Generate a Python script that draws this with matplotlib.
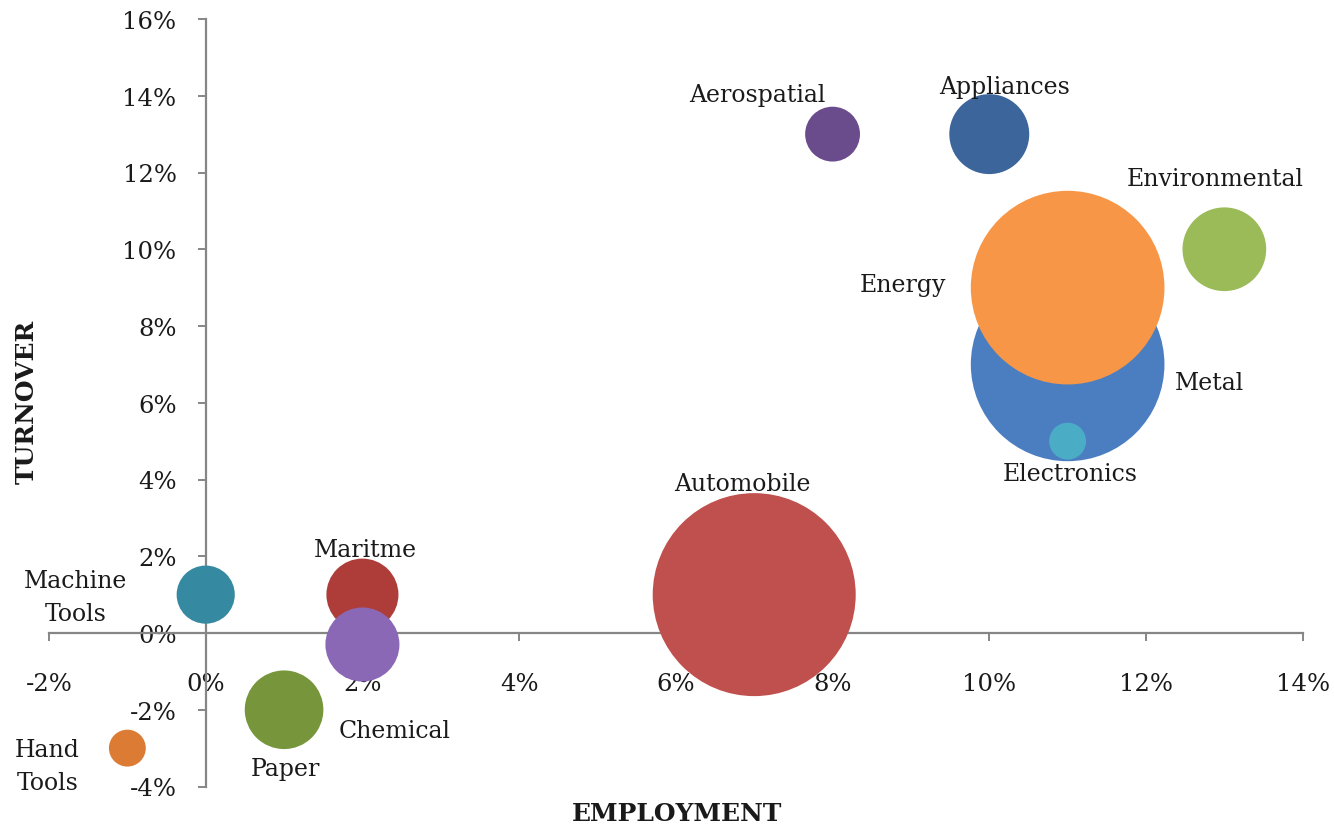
import matplotlib
matplotlib.use("Agg")
import matplotlib.pyplot as plt
from matplotlib.ticker import FuncFormatter

# ---- data ----
sectors = ["Hand\nTools", "Machine\nTools", "Maritme", "Chemical", "Paper", "Automobile",
           "Aerospatial", "Appliances", "Environmental", "Metal", "Energy", "Electronics"]
employment = [-1, 0, 2, 2, 1, 7, 8, 10, 13, 11, 11, 11]          # %
turnover = [-3, 1, 1, -0.3, -2, 1, 13, 13, 10, 7, 9, 5]          # %
bubble_size = [3.3, 8.2, 12.6, 13.3, 15, 100, 7.3, 15.5, 17, 91, 91, 3.3]
colors = ["#DB7B34", "#3589A1", "#AE3D39", "#8A68B5", "#77953A", "#C0504D",
          "#6A4B8B", "#3C659B", "#9BBB59", "#4A7EC1", "#F79646", "#4BACC6"]
x_ticks = [-2, 0, 2, 4, 6, 8, 10, 12, 14]
y_ticks = [-4, -2, 0, 2, 4, 6, 8, 10, 12, 14, 16]

# label offsets in pixels from bubble centre (dx, dy; y up)
label_offsets = [(-80, -18), (-130, -2), (3, 45), (32, -86), (1, -59), (-12, 111),
                 (-75, 40), (15, 48), (-9, 71), (142, -18), (-165, 3), (3, -32)]

DPI = 100
fig = plt.figure(figsize=(13.34, 8.29), dpi=DPI)
ax = fig.add_axes([49 / 1334, 1 - 787.5 / 829, (1302.7 - 49) / 1334, (787.5 - 20) / 829])

font = "DejaVu Serif"
txt_color = "#1a1a1a"
axis_color = "#868686"

max_r_px = 101.5
max_size = max(bubble_size)
for x, y, sz, c in zip(employment, turnover, bubble_size, colors):
    r_px = max_r_px * (sz / max_size) ** 0.5
    d_pt = 2 * r_px * 72 / DPI
    ax.scatter([x], [y], s=d_pt ** 2, color=c, edgecolors="none", zorder=3)

for name, x, y, (dx, dy) in zip(sectors, employment, turnover, label_offsets):
    ax.annotate(name, (x, y), xytext=(dx * 72 / DPI, dy * 72 / DPI), textcoords="offset points",
                ha="center", va="center", fontsize=17, family=font, color=txt_color,
                linespacing=1.55, zorder=5)

ax.set_xlim(-2, 14)
ax.set_ylim(-4, 16)
ax.set_xticks(x_ticks)
ax.set_yticks(y_ticks)
pct = FuncFormatter(lambda v, p: f"{v:.0f}%")
ax.xaxis.set_major_formatter(pct)
ax.yaxis.set_major_formatter(pct)

for s in ["top", "right"]:
    ax.spines[s].set_visible(False)
ax.spines["left"].set_position(("data", 0))
ax.spines["bottom"].set_position(("data", 0))
for s in ["left", "bottom"]:
    ax.spines[s].set_color(axis_color)
    ax.spines[s].set_linewidth(1.6)
    ax.spines[s].set_zorder(2)

ax.tick_params(axis="both", direction="out", length=6, width=1.4, color=axis_color,
               labelsize=17.5, labelcolor=txt_color)
ax.tick_params(axis="x", pad=22)
ax.tick_params(axis="y", pad=15)
for lab in ax.get_xticklabels() + ax.get_yticklabels():
    lab.set_family(font)

fig.text(677 / 1334, 1 - 814 / 829, "EMPLOYMENT", ha="center", va="center",
         fontsize=18, fontweight="bold", family=font, color=txt_color)
fig.text(27 / 1334, 1 - 402 / 829, "TURNOVER", ha="center", va="center", rotation=90,
         fontsize=18, fontweight="bold", family=font, color=txt_color)

fig.savefig("out.png", dpi=DPI, facecolor="white")
